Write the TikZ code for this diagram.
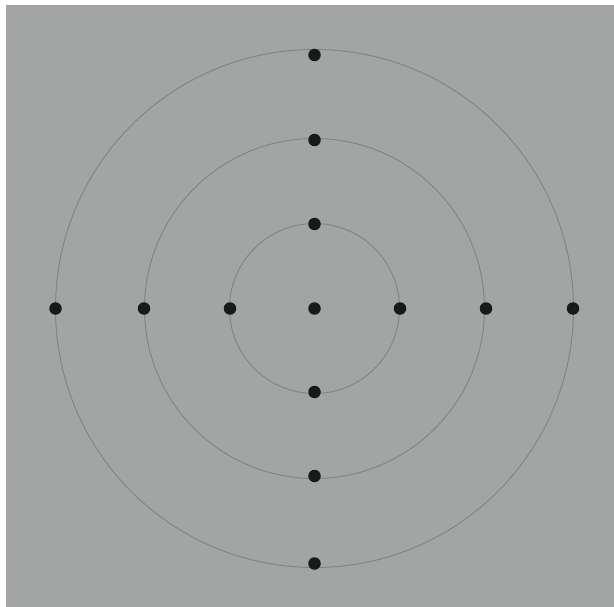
\documentclass[tikz,border=0pt]{standalone}
\definecolor{card}{RGB}{163,165,164}
\definecolor{ring}{RGB}{132,134,134}
\definecolor{dotc}{RGB}{24,26,26}
\tikzset{
  dotnode/.style={circle,fill=dotc,draw=none,minimum size=12.5pt,inner sep=0pt},
  ringline/.style={draw=ring,line width=1pt}
}
\begin{document}
\begin{tikzpicture}[x=1pt,y=-1pt]
\useasboundingbox (0,0) rectangle (614,607);
\fill[white] (0,0) rectangle (614,607);
\fill[card] (6,5) rectangle (614,607);
\coordinate (c) at (314.5,308.5);
\draw[ringline] (c) circle[radius=259];
\draw[ringline] (c) circle[radius=170];
\draw[ringline] (c) circle[radius=85];
\node[dotnode] (o) at (c) {};
\node[dotnode] (n1) at (314.5,224) {};
\node[dotnode] (n2) at (314.5,140) {};
\node[dotnode] (n3) at (314.5,55) {};
\node[dotnode] (s1) at (314.5,392) {};
\node[dotnode] (s2) at (314.5,476) {};
\node[dotnode] (s3) at (314.5,563.5) {};
\node[dotnode] (w1) at (230,308.5) {};
\node[dotnode] (w2) at (144,308.5) {};
\node[dotnode] (w3) at (55.5,308.5) {};
\node[dotnode] (e1) at (400,308.5) {};
\node[dotnode] (e2) at (486,308.5) {};
\node[dotnode] (e3) at (573,308.5) {};
\end{tikzpicture}
\end{document}
